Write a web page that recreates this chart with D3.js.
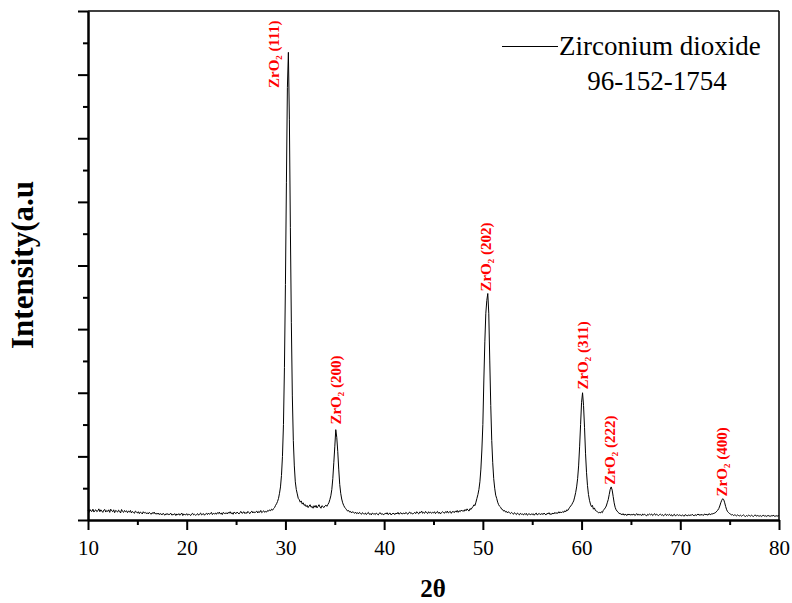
<!DOCTYPE html>
<html>
<head>
<meta charset="utf-8">
<script src="https://cdn.jsdelivr.net/npm/d3@7"></script>
<style>
  body { margin: 0; background: #fff; }
  svg text { font-family: "Liberation Serif", "Times New Roman", serif; }
</style>
</head>
<body>
<script>
const w = 792;
const h = 603;

// scan: 2theta from 10 to 80 deg, step 0.1 deg (one row per degree)
const startAngle = 10;
const stepAngle = 0.1;
const intensity = [
  150,120,165,140,135,170,125,150,160,130,
  145,175,130,160,140,120,155,165,125,150,
  135,160,120,170,145,130,160,115,150,140,
  125,155,140,110,165,135,120,150,130,145,
  115,140,125,150,110,135,120,105,140,125,
  110,130,100,125,115,95,130,110,120,100,
  115,95,120,105,90,115,100,125,95,105,
  90,110,85,100,95,80,105,90,75,100,
  85,100,80,95,105,75,90,85,100,70,
  95,80,100,75,90,110,70,95,85,80,
  100,75,90,85,70,95,105,80,90,75,
  85,100,75,95,110,80,90,100,75,95,
  105,85,110,90,100,120,85,105,95,110,
  90,115,100,125,95,110,85,120,105,100,
  115,95,120,105,130,100,115,90,125,110,
  100,125,110,95,120,135,105,115,130,100,
  120,105,135,115,100,125,140,110,130,115,
  125,140,110,135,120,150,115,130,145,120,
  135,125,150,140,160,145,170,155,180,195,
  230,255,290,340,420,520,700,1000,1500,2400,
  3700,5300,6800,7350,6300,4600,3100,1950,1250,850,
  600,480,410,340,320,280,300,250,270,230,
  245,210,230,195,220,240,200,215,185,225,
  200,230,190,215,240,205,185,225,210,195,
  220,235,215,245,270,320,380,480,650,900,
  1150,1420,1300,1080,800,560,420,330,270,230,
  200,180,160,140,150,125,135,110,130,120,
  105,125,100,115,95,120,105,90,115,100,
  95,110,85,105,120,90,100,80,110,95,
  100,85,110,95,80,105,115,90,100,85,
  90,105,95,115,85,100,110,80,95,105,
  100,85,110,95,120,90,105,115,95,100,
  110,95,120,105,90,115,125,100,110,95,
  105,120,100,130,110,95,125,115,140,105,
  120,105,135,115,100,130,110,125,105,120,
  110,130,100,120,135,105,125,95,115,130,
  120,105,130,115,140,110,125,135,105,130,
  135,115,140,125,150,120,145,130,155,140,
  150,135,165,145,175,155,140,180,165,190,
  210,240,225,280,340,400,480,600,800,1100,
  1500,2200,2800,3250,3450,3560,3250,2500,1800,1250,
  900,650,500,390,340,280,240,215,200,170,
  165,140,150,125,135,110,130,115,100,120,
  105,90,115,100,85,110,95,80,105,90,
  95,80,100,85,105,75,90,100,80,95,
  85,100,75,95,110,80,90,105,85,95,
  100,85,110,90,80,105,95,115,85,100,
  90,110,95,120,100,115,105,130,110,125,
  115,135,120,145,130,160,150,175,200,220,
  240,270,300,360,430,520,650,850,1150,1500,
  1850,2000,1800,1450,1050,750,540,400,310,250,
  210,230,170,190,150,140,130,115,120,110,
  130,115,150,170,190,220,270,320,400,480,
  520,470,370,270,200,160,140,120,105,100,
  95,80,100,75,90,85,70,95,80,90,
  75,90,80,95,70,85,100,75,90,80,
  85,70,95,80,90,75,65,90,80,95,
  80,95,70,85,100,75,90,80,70,85,
  90,75,85,65,80,95,70,85,75,90,
  70,85,60,80,90,65,75,85,70,80,
  75,65,80,70,60,85,75,65,80,70,
  80,70,90,75,65,85,70,80,95,75,
  85,75,90,70,85,95,80,90,75,100,
  90,85,100,95,105,110,120,140,155,180,
  220,270,310,335,320,270,210,160,130,115,
  100,90,80,85,70,80,75,65,80,70,
  65,75,60,70,80,65,55,70,60,75,
  70,60,75,65,55,70,80,60,70,65,
  60,70,55,65,75,60,70,55,65,70,
  65,55,70,60,75,65,55,70,60,65,
  70
];

// peak labels: hkl, label anchor (2theta, intensity)
const peakHkl = ["(111)", "(200)", "(202)", "(311)", "(222)", "(400)"];
const peakAngle = [29.32, 35.65, 50.86, 60.61, 63.34, 74.78];
const peakLevel = [6790, 1500, 3590, 2050, 555, 370];

const xMajor = [10, 20, 30, 40, 50, 60, 70, 80];
const xMinor = [15, 25, 35, 45, 55, 65, 75];
const yMajor = [0, 1000, 2000, 3000, 4000, 5000, 6000, 7000, 8000];
const yMinor = [500, 1500, 2500, 3500, 4500, 5500, 6500, 7500];

const svg = d3.select("body")
  .append("svg")
  .attr("width", w)
  .attr("height", h);

const xScale = d3.scaleLinear().domain([10, 80]).range([88, 779]);
const yScale = d3.scaleLinear().domain([0, 8000]).range([520, 11]);

// frame top/right
svg.append("line")
  .attr("x1", 88).attr("x2", 779).attr("y1", 11).attr("y2", 11)
  .attr("stroke", "#000").attr("stroke-width", 1.5);
svg.append("line")
  .attr("x1", 779).attr("x2", 779).attr("y1", 11).attr("y2", 520)
  .attr("stroke", "#000").attr("stroke-width", 1.5);

// x axis
const xAxisGroup = svg.append("g")
  .attr("transform", "translate(0, 520)")
  .call(d3.axisBottom(xScale).tickValues(xMajor).tickSize(10).tickSizeOuter(0)
    .tickPadding(10).tickFormat(d3.format("d")));
svg.append("g")
  .attr("transform", "translate(0, 520)")
  .call(d3.axisBottom(xScale).tickValues(xMinor).tickSize(5).tickSizeOuter(0).tickFormat(""));

// y axis
svg.append("g")
  .attr("transform", "translate(88, 0)")
  .call(d3.axisLeft(yScale).tickValues(yMajor).tickSize(10).tickSizeOuter(0).tickFormat(""));
svg.append("g")
  .attr("transform", "translate(88, 0)")
  .call(d3.axisLeft(yScale).tickValues(yMinor).tickSize(5).tickSizeOuter(0).tickFormat(""));

svg.selectAll(".domain, .tick line")
  .attr("stroke", "#000")
  .attr("stroke-width", 2);

xAxisGroup.selectAll(".tick text")
  .attr("font-size", 21)
  .attr("fill", "#000");

// pattern
const line = d3.line()
  .x((d, i) => xScale(startAngle + i * stepAngle))
  .y(d => yScale(d));

svg.append("path")
  .datum(intensity)
  .attr("d", line)
  .attr("fill", "none")
  .attr("stroke", "#000")
  .attr("stroke-width", 1)
  .attr("stroke-linejoin", "round");

// peak labels
const labels = svg.append("g")
  .selectAll("text")
  .data(peakHkl)
  .enter()
  .append("text")
  .attr("transform", (d, i) =>
    "translate(" + xScale(peakAngle[i]) + "," + yScale(peakLevel[i]) + ") rotate(-90)")
  .attr("fill", "#ff0000")
  .attr("font-weight", "bold")
  .attr("font-size", 15);
labels.append("tspan").text("ZrO");
labels.append("tspan").attr("font-size", 9).attr("dy", 3).text("2");
labels.append("tspan").attr("dy", -3).text(d => "\u00A0" + d);

// legend
svg.append("line")
  .attr("x1", 502).attr("x2", 558).attr("y1", 46.5).attr("y2", 46.5)
  .attr("stroke", "#000").attr("stroke-width", 1);
svg.append("text")
  .attr("x", 559).attr("y", 55)
  .attr("font-size", 27)
  .text("Zirconium dioxide");
svg.append("text")
  .attr("x", 657).attr("y", 90)
  .attr("text-anchor", "middle")
  .attr("font-size", 27)
  .text("96-152-1754");

// axis titles
svg.append("text")
  .attr("x", 433).attr("y", 597)
  .attr("text-anchor", "middle")
  .attr("font-weight", "bold")
  .attr("font-size", 25)
  .text("2\u03B8");

svg.append("text")
  .attr("transform", "translate(33, 265) rotate(-90)")
  .attr("text-anchor", "middle")
  .attr("font-weight", "bold")
  .attr("font-size", 31)
  .text("Intensity(a.u");
</script>
</body>
</html>
